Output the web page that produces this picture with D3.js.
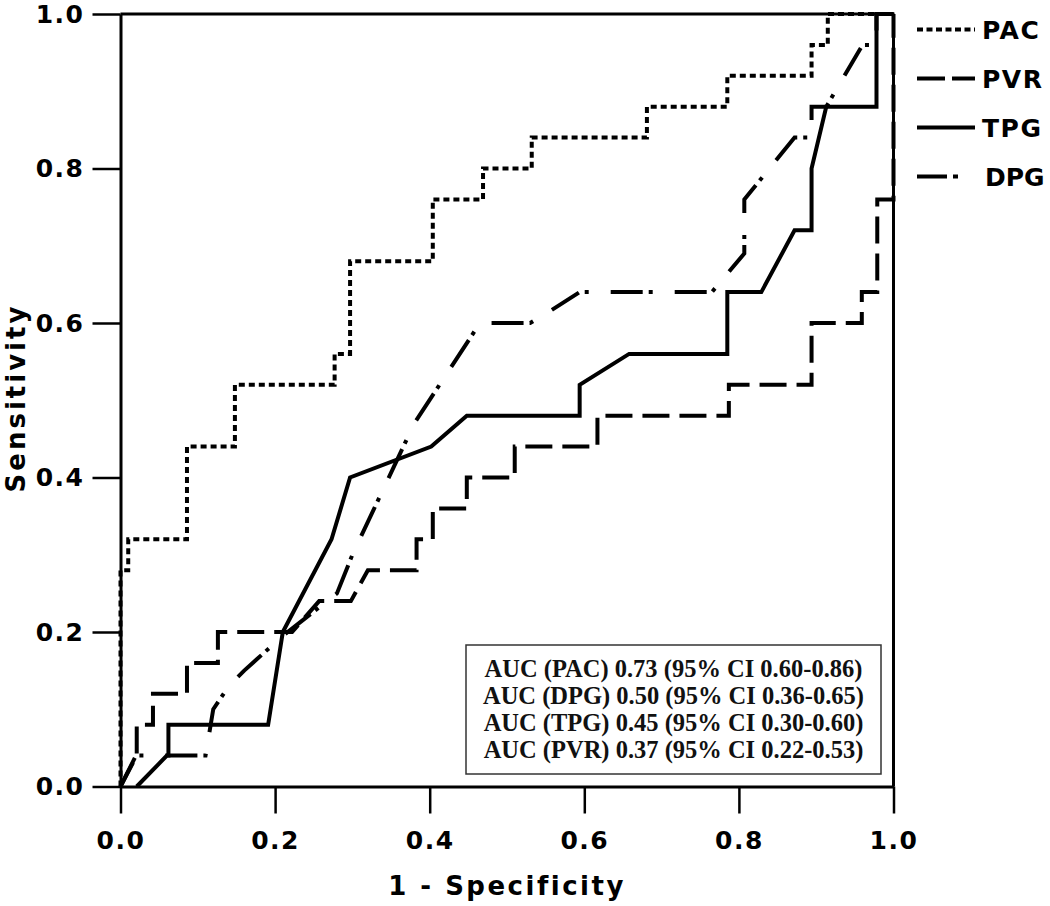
<!DOCTYPE html>
<html><head><meta charset="utf-8">
<script src="https://cdn.jsdelivr.net/npm/d3@7/dist/d3.min.js"></script>
<style>
body{margin:0;background:#fff;}
svg{display:block;}
.tk text{font-family:"DejaVu Sans";font-weight:bold;font-size:25px;letter-spacing:1.5px;fill:#000;}
</style></head>
<body><svg id="c" width="1050" height="906"></svg>
<script>
// ROC curve points (1 - specificity, sensitivity)
const pacX = [0,0,0.01,0.01,0.086,0.086,0.148,0.148,0.277,0.277,0.297,0.297,0.404,0.404,0.469,0.469,0.532,0.532,0.681,0.681,0.785,0.785,0.894,0.894,0.915,0.915,1];
const pacY = [0,0.28,0.28,0.32,0.32,0.44,0.44,0.52,0.52,0.56,0.56,0.68,0.68,0.76,0.76,0.80,0.80,0.84,0.84,0.88,0.88,0.92,0.92,0.96,0.96,1,1];
const pvrX = [0,0.021,0.021,0.042,0.042,0.086,0.086,0.126,0.126,0.222,0.257,0.298,0.32,0.383,0.383,0.404,0.404,0.448,0.448,0.51,0.51,0.617,0.617,0.787,0.787,0.894,0.894,0.959,0.959,0.979,0.979,1,1];
const pvrY = [0,0.04,0.08,0.08,0.12,0.12,0.16,0.16,0.20,0.20,0.24,0.24,0.28,0.28,0.32,0.32,0.36,0.36,0.40,0.40,0.44,0.44,0.48,0.48,0.52,0.52,0.60,0.60,0.64,0.64,0.76,0.76,1];
const tpgX = [0.021,0.06,0.062,0.062,0.191,0.21,0.273,0.297,0.402,0.448,0.594,0.594,0.658,0.785,0.785,0.829,0.872,0.894,0.894,0.913,0.978,0.978,1];
const tpgY = [0,0.04,0.04,0.08,0.08,0.20,0.32,0.40,0.44,0.48,0.48,0.52,0.56,0.56,0.64,0.64,0.72,0.72,0.80,0.88,0.88,1,1];
const dpgX = [0,0.02,0.11,0.12,0.14,0.16,0.21,0.28,0.30,0.38,0.465,0.53,0.555,0.594,0.765,0.807,0.807,0.872,0.894,0.894,0.913,0.96,0.978,0.978,1];
const dpgY = [0,0.04,0.04,0.10,0.13,0.15,0.195,0.25,0.30,0.47,0.60,0.60,0.615,0.64,0.64,0.69,0.76,0.84,0.84,0.88,0.88,0.96,0.96,1,1];
const tickVals = [0,0.2,0.4,0.6,0.8,1.0];
const legendNames = ["PAC","PVR","TPG","DPG"];
const aucLines = [
  "AUC (PAC) 0.73 (95% CI 0.60-0.86)",
  "AUC (DPG) 0.50 (95% CI 0.36-0.65)",
  "AUC (TPG) 0.45 (95% CI 0.30-0.60)",
  "AUC (PVR) 0.37 (95% CI 0.22-0.53)"
];

const svg = d3.select("#c");
const x = d3.scaleLinear().domain([0,1]).range([120.5,893.5]);
const y = d3.scaleLinear().domain([0,1]).range([786.5,14]);

const styles = {
  PAC:{dash:"6,4", w:4},
  PVR:{dash:"27,10", w:4},
  TPG:{dash:null, w:4},
  DPG:{dash:"32,6,4,22", w:4}
};
const series = {PAC:[pacX,pacY], PVR:[pvrX,pvrY], TPG:[tpgX,tpgY], DPG:[dpgX,dpgY]};

// axes
const ya = svg.append("g").attr("class","tk").attr("transform",`translate(${x(0)},0)`)
  .call(d3.axisLeft(y).tickValues(tickVals).tickFormat(d3.format(".1f")).tickSize(28).tickPadding(8).tickSizeOuter(0));
const xa = svg.append("g").attr("class","tk").attr("transform",`translate(0,${y(0)})`)
  .call(d3.axisBottom(x).tickValues(tickVals).tickFormat(d3.format(".1f")).tickSize(27).tickPadding(18).tickSizeOuter(0));
[ya,xa].forEach(g=>{
  g.select(".domain").attr("stroke","#000").attr("stroke-width",3);
  g.selectAll(".tick line").attr("stroke","#000").attr("stroke-width",2.5);
});
// frame top and right
svg.append("line").attr("x1",x(0)).attr("x2",x(1)+1).attr("y1",y(1)).attr("y2",y(1)).attr("stroke","#000").attr("stroke-width",3);
svg.append("line").attr("x1",x(1)).attr("x2",x(1)).attr("y1",y(1)).attr("y2",y(0)).attr("stroke","#000").attr("stroke-width",3);

// curves
const line = d3.line().x(d=>x(d[0])).y(d=>y(d[1]));
Object.keys(series).forEach(k=>{
  const [xs,ys]=series[k];
  const pts = xs.map((v,i)=>[v,ys[i]]);
  const p = svg.append("path").datum(pts).attr("d",line).attr("fill","none")
    .attr("stroke","#000").attr("stroke-width",styles[k].w).attr("stroke-linejoin","miter");
  if(styles[k].dash) p.attr("stroke-dasharray",styles[k].dash);
});

// AUC box
svg.append("rect").attr("x",466).attr("y",645).attr("width",415).attr("height",129)
  .attr("fill","#fff").attr("stroke","#333").attr("stroke-width",1.5);
aucLines.forEach((t,i)=>{
  svg.append("text").attr("x",673.5).attr("y",677+i*27).attr("text-anchor","middle")
    .attr("font-family","'Liberation Serif'").attr("font-weight","bold").attr("font-size",24.5)
    .attr("fill","#111").text(t);
});

// legend
const lg = svg.append("g");
legendNames.forEach((n,i)=>{
  const cy = 29.5 + i*49;
  const st = styles[n];
  let ln;
  if(n==="PVR"){
    ln = lg.append("line").attr("x1",917).attr("x2",975).attr("stroke-dasharray","28,7");
  } else if(n==="DPG"){
    ln = lg.append("line").attr("x1",917).attr("x2",958).attr("stroke-dasharray","30,6,5,40");
  } else {
    ln = lg.append("line").attr("x1",917).attr("x2",975);
    if(st.dash) ln.attr("stroke-dasharray","6,3.5");
  }
  ln.attr("y1",cy).attr("y2",cy).attr("stroke","#000").attr("stroke-width",4);
  lg.append("text").attr("x",n==="DPG"?985:982).attr("y",cy).attr("dy","0.36em")
    .attr("font-family","'DejaVu Sans'").attr("font-weight","bold").attr("font-size",25)
    .attr("letter-spacing",n==="DPG"?0:1.5).attr("fill","#000").text(n);
});

// axis titles
svg.append("text").attr("x",507).attr("y",895).attr("text-anchor","middle")
  .attr("font-family","'DejaVu Sans'").attr("font-weight","bold").attr("font-size",26)
  .attr("letter-spacing",2.5).attr("fill","#000").text("1 - Specificity");
svg.append("text").attr("transform","translate(25,398) rotate(-90)").attr("text-anchor","middle")
  .attr("font-family","'DejaVu Sans'").attr("font-weight","bold").attr("font-size",26)
  .attr("letter-spacing",3).attr("fill","#000").text("Sensitivity");
</script></body></html>
